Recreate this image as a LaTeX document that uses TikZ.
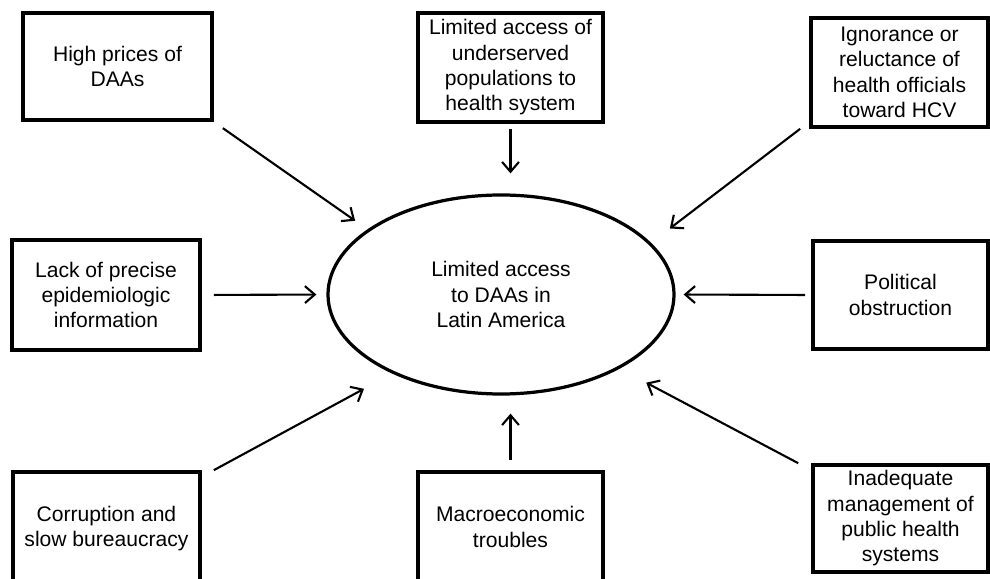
\documentclass[tikz,border=0pt]{standalone}
\usepackage{fontspec}
\setmainfont{Liberation Sans}
\usetikzlibrary{shapes,arrows.meta,positioning,calc}

\begin{document}
\begin{tikzpicture}[
    cause/.style={draw, line width=2.6pt, align=center, inner sep=2pt},
    arr/.style={-{Straight Barb[length=7pt,width=12pt]}, line width=1.5pt},
    font=\fontsize{15}{18}\selectfont]
    \useasboundingbox (0,0) rectangle (24.75,-14.475);
    \clip (0,0) rectangle (24.75,-14.475);

    \node [draw, ellipse, line width=2.3pt, minimum width=8.65cm, minimum height=4.975cm, align=center] (main) at (12.525,-7.3625) {Limited access\\to DAAs in\\Latin America};

    \node [cause, minimum width=4.725cm, minimum height=2.675cm] (high) at (2.9375,-1.6625) {High prices of\\DAAs};
    \node [cause, minimum width=4.625cm, minimum height=2.725cm] (access) at (12.7625,-1.6875) {Limited access of\\underserved\\populations to\\health system};
    \node [cause, minimum width=4.425cm, minimum height=2.725cm] (ignor) at (22.4875,-1.8125) {Ignorance or\\reluctance of\\health officials\\toward HCV};
    \node [cause, minimum width=4.7cm, minimum height=2.75cm] (lack) at (2.65,-7.375) {Lack of precise\\epidemiologic\\information};
    \node [cause, minimum width=4.375cm, minimum height=2.7cm] (polit) at (22.5125,-7.375) {Political\\obstruction};
    \node [cause, minimum width=4.675cm, minimum height=2.825cm] (corr) at (2.6625,-13.2125) {Corruption and\\slow bureaucracy};
    \node [cause, minimum width=4.625cm, minimum height=2.75cm] (macro) at (12.7625,-13.175) {Macroeconomic\\troubles};
    \node [cause, minimum width=4.375cm, minimum height=2.675cm] (inadeq) at (22.5125,-12.9625) {Inadequate\\management of\\public health\\systems};

    % arrows into the central ellipse
    \draw [arr, shorten <=0.275cm, shorten >=0.375cm] (high.south east) -- (main.154);
    \draw [arr, shorten <=0.125cm, shorten >=0.5cm] (access.south) -- (access.south |- main.north);
    \draw [arr, shorten >=0.59cm] ([xshift=-0.225cm]ignor.south west) -- (main.19);
    \draw [arr, shorten <=0.3cm, shorten >=0.25cm] (lack.east) -- (main.west);
    \draw [arr, shorten <=0.15cm, shorten >=0.2cm] (polit.west) -- (main.east);
    \draw [arr, shorten >=0.8cm] ([xshift=0.3cm]corr.north east) -- (main.216.5);
    \draw [arr, shorten <=0.25cm, shorten >=0.45cm] (macro.north) -- (macro.north |- main.south);
    \draw [arr, shorten >=0.75cm] ([xshift=-0.325cm]inadeq.north west) -- (main.328);
\end{tikzpicture}
\end{document}
